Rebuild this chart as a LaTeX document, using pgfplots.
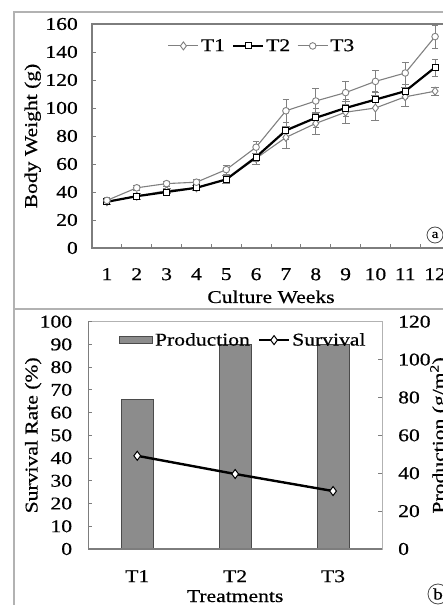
\documentclass[border=0pt]{standalone}
\usepackage{fontspec}
\setmainfont{Liberation Serif}[FakeStretch=1.2, FakeBold=0.6]
\usepackage{pgfplots}
\pgfplotsset{compat=1.18}
\newcommand\fs{\fontsize{18}{21.6}\selectfont}
\definecolor{framegray}{RGB}{178,178,178}
\definecolor{axisgray}{RGB}{125,125,125}
\definecolor{seriesgray}{RGB}{128,128,128}
\definecolor{barfill}{RGB}{140,140,140}
\definecolor{baredge}{RGB}{75,75,75}
\pgfplotsset{
  barlegend/.style={legend image code/.code={\draw[##1] (0pt,-3.5pt) rectangle (33pt,3.5pt);}},
  linelegend/.style={legend image code/.code={\draw[mark repeat=2,mark phase=2,##1] plot coordinates {(0pt,0pt) (15pt,0pt) (30pt,0pt)};}},
  common/.style={
    scale only axis,
    /pgf/number format/assume math mode=true,
    tick label style={font=\fs},
    label style={font=\fs},
    tick style={axisgray, line width=0.8pt},
    major tick length=4pt,
  },
}

% body weight per week: mean and standard deviation
\pgfplotstableread{
w  t1  e1  t2  e2  t3  e3
1  33  2   33  2   34  2
2  37  2   37  2   43  2
3  41  2   40  2   46  2
4  43  2   43  2   47  2
5  49  3   49  2   56  3
6  64  4   65  3   72  4
7  79  8   84  6   98  8
8  89  8   93  7   105 9
9  97  8   100 6   111 8
10 100 9   106 6   119 8
11 108 7   112 5   125 8
12 112 3   129 6   151 8
}\weights

\begin{document}
\begin{tikzpicture}
\path[use as bounding box, clip] (0pt,0pt) rectangle (443pt,605pt);

% (a) body weight
\begin{axis}[common,
  at={(92pt,357pt)}, anchor=south west,
  width=358pt, height=224pt,
  xmin=0.5, xmax=12.5, ymin=0, ymax=160,
  xtick={0.5,1.5,...,12.5},
  xticklabels={1,2,3,4,5,6,7,8,9,10,11,12,},
  x tick label as interval,
  ytick={0,20,...,160},
  xtick pos=bottom, ytick pos=left,
  axis line style={axisgray, line width=1.2pt},
  xticklabel style={anchor=north, inner sep=0pt, yshift=-20pt},
  yticklabel style={anchor=east, inner sep=0pt, xshift=-14pt},
  xlabel={Culture Weeks}, ylabel={Body Weight (g)},
  xlabel style={at={(axis description cs:0.5,-0.2455)}, anchor=base},
  ylabel style={at={(axis description cs:-0.1536,0.5)}, anchor=base},
  legend columns=3,
  linelegend,
  legend style={draw=none, fill=none, font=\fs, at={(rel axis cs:0.475,0.902)}, anchor=center,
    /tikz/every even column/.append style={column sep=5pt}},
]
\addplot[seriesgray, line width=1.1pt, mark=diamond*, mark size=4pt,
  mark options={fill=white, line width=0.9pt},
  error bars/.cd, y dir=both, y explicit,
  error bar style={seriesgray, line width=0.7pt}]
  table[x=w, y=t1, y error=e1] {\weights};
\addlegendentry{T1}
\addplot[black, line width=2.2pt, mark=square*, mark size=3pt,
  mark options={fill=white, line width=0.9pt},
  error bars/.cd, y dir=both, y explicit,
  error bar style={seriesgray, line width=0.7pt}]
  table[x=w, y=t2, y error=e2] {\weights};
\addlegendentry{T2}
\addplot[seriesgray, line width=1.1pt, mark=*, mark size=3.3pt,
  mark options={fill=white, line width=0.9pt},
  error bars/.cd, y dir=both, y explicit,
  error bar style={seriesgray, line width=0.7pt}]
  table[x=w, y=t3, y error=e3] {\weights};
\addlegendentry{T3}
\end{axis}

% (b) production, right axis
\begin{axis}[common,
  at={(88.3pt,56pt)}, anchor=south west,
  width=293.7pt, height=227.3pt,
  xmin=0.5, xmax=3.5, ymin=0, ymax=120,
  ytick={0,20,...,120},
  xtick={1,2,3}, xticklabels={T1,T2,T3}, xtick style={draw=none},
  ytick pos=right, yticklabel pos=right,
  axis line style={framegray, line width=0.9pt},
  xticklabel style={anchor=north, inner sep=0pt, yshift=-21pt},
  yticklabel style={anchor=west, inner sep=0pt, xshift=16pt},
  ylabel={Production (g/m\textsuperscript{2})},
  ylabel style={at={(axis description cs:1.1634,0.5)}, anchor=north, inner sep=0pt},
  xlabel={Treatments},
  xlabel style={at={(axis description cs:0.5,-0.2332)}, anchor=base},
]
\addplot[ybar, bar width=32pt, fill=barfill, draw=baredge, line width=0.8pt]
  coordinates {(1,79) (2,108) (3,108)};
\end{axis}

% (b) survival, left axis
\begin{axis}[common,
  at={(88.3pt,56pt)}, anchor=south west,
  width=293.7pt, height=227.3pt,
  xmin=0.5, xmax=3.5, ymin=0, ymax=100,
  ytick={0,10,...,100}, xtick=\empty,
  axis x line*=bottom, axis y line*=left,
  x axis line style={axisgray, line width=1.4pt},
  y axis line style={axisgray, line width=1.2pt},
  yticklabel style={anchor=east, inner sep=0pt, xshift=-16pt},
  ylabel={Survival Rate (\%)},
  ylabel style={at={(axis description cs:-0.173,0.5)}, anchor=base},
  legend columns=2,
  linelegend,
  legend style={draw=none, fill=none, font=\fs, at={(rel axis cs:0.528,0.919)}, anchor=center,
    /tikz/every even column/.append style={column sep=6pt}},
]
\addlegendimage{barlegend, fill=barfill, draw=baredge, line width=0.8pt}
\addlegendentry{Production}
\addplot[black, line width=2.4pt, mark=diamond*, mark size=4.5pt,
  mark options={fill=white, line width=1pt}]
  coordinates {(1,41) (2,33) (3,25.5)};
\addlegendentry{Survival}
\end{axis}

% panel frame and panel tags
\begin{scope}[x=1pt, y=1pt]
\draw[framegray, line width=1.8pt] (14,-5) -- (14,593) -- (460,593);
\draw[framegray, line width=1.8pt] (14,296) -- (460,296);
\draw[black!70, line width=0.8pt] (435,370) circle (8);
\node[font=\fontsize{13}{13}\selectfont, inner sep=0pt] at (435,370) {a};
\draw[black!70, line width=0.8pt] (438,11) circle (10);
\node[font=\fontsize{16}{16}\selectfont, inner sep=0pt] at (438,11) {b};
\end{scope}
\end{tikzpicture}
\end{document}
